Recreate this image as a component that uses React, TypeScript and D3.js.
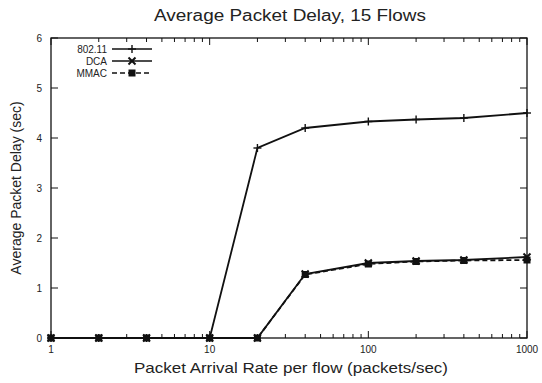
import React from "react";
import * as d3 from "d3";

// Packet arrival rates (packets/sec) and average delays (sec) per MAC protocol
const rates = [1, 2, 4, 10, 20, 40, 100, 200, 400, 1000];
const delay80211 = [0, 0, 0, 0, 3.8, 4.2, 4.33, 4.37, 4.4, 4.5];
const delayDCA = [0, 0, 0, 0, 0, 1.28, 1.5, 1.54, 1.56, 1.62];
const delayMMAC = [0, 0, 0, 0, 0, 1.27, 1.48, 1.53, 1.55, 1.56];

const seriesNames = ["802.11", "DCA", "MMAC"];
const xTickLabels = [1, 10, 100, 1000];
const yTickValues = [0, 1, 2, 3, 4, 5, 6];

const W = 542;
const H = 383;
const M = { left: 51, right: 527, top: 38, bottom: 338 };
const FONT = "'Liberation Sans', Arial, Helvetica, sans-serif";
const INK = "#111";

type Marker = "plus" | "cross" | "square";

function MarkerShape({ type, x, y }: { type: Marker; x: number; y: number }) {
  if (type === "plus") {
    return (
      <g stroke={INK} strokeWidth={1.4}>
        <line x1={x - 4} x2={x + 4} y1={y} y2={y} />
        <line x1={x} x2={x} y1={y - 4} y2={y + 4} />
      </g>
    );
  }
  if (type === "cross") {
    return (
      <g stroke={INK} strokeWidth={2}>
        <line x1={x - 3.5} x2={x + 3.5} y1={y - 3.5} y2={y + 3.5} />
        <line x1={x - 3.5} x2={x + 3.5} y1={y + 3.5} y2={y - 3.5} />
      </g>
    );
  }
  return <rect x={x - 3.5} y={y - 3.5} width={7} height={7} fill={INK} />;
}

export default function App() {
  const x = d3.scaleLog().domain([1, 1000]).range([M.left, M.right]);
  const y = d3.scaleLinear().domain([0, 6]).range([M.bottom, M.top]);

  const series: { name: string; values: number[]; marker: Marker; dash?: string }[] = [
    { name: seriesNames[0], values: delay80211, marker: "plus" },
    { name: seriesNames[1], values: delayDCA, marker: "cross" },
    { name: seriesNames[2], values: delayMMAC, marker: "square", dash: "5,3" },
  ];

  const line = d3
    .line<number>()
    .x((_, i) => x(rates[i]))
    .y((d) => y(d));

  // major decade ticks and minor ticks 2..9 within each decade
  const majorTicks = xTickLabels;
  const minorTicks: number[] = [];
  for (const dec of [1, 10, 100]) {
    for (let k = 2; k <= 9; k++) minorTicks.push(dec * k);
  }

  const legendRows = [49, 61, 73];

  return (
    <div style={{ position: "fixed", left: 0, top: 0 }}>
      <svg width={W} height={H} style={{ display: "block", background: "#fff" }}>
        <text
          x={(M.left + M.right) / 2 + 1}
          y={21}
          textAnchor="middle"
          fontFamily={FONT}
          fontSize={16}
          textLength={272}
          lengthAdjust="spacingAndGlyphs"
          fill="#222"
        >
          Average Packet Delay, 15 Flows
        </text>

        {/* tick marks */}
        <g stroke={INK} strokeWidth={1}>
          {majorTicks.map((t) => (
            <g key={"M" + t}>
              <line x1={x(t)} x2={x(t)} y1={M.bottom} y2={M.bottom - 7} />
              <line x1={x(t)} x2={x(t)} y1={M.top} y2={M.top + 7} />
            </g>
          ))}
          {minorTicks.map((t) => (
            <g key={"m" + t}>
              <line x1={x(t)} x2={x(t)} y1={M.bottom} y2={M.bottom - 4} />
              <line x1={x(t)} x2={x(t)} y1={M.top} y2={M.top + 4} />
            </g>
          ))}
          {yTickValues.map((t) => (
            <g key={"y" + t}>
              <line x1={M.left} x2={M.left + 7} y1={y(t)} y2={y(t)} />
              <line x1={M.right} x2={M.right - 7} y1={y(t)} y2={y(t)} />
            </g>
          ))}
        </g>

        {/* tick labels */}
        <g fontFamily={FONT} fontSize={10} fill="#222">
          {xTickLabels.map((t) => (
            <text key={t} x={x(t)} y={M.bottom + 15} textAnchor="middle">
              {t}
            </text>
          ))}
          {yTickValues.map((t) => (
            <text key={t} x={M.left - 9} y={y(t) + 3.5} textAnchor="end">
              {t}
            </text>
          ))}
        </g>

        {/* data lines */}
        {series.map((s) => (
          <g key={s.name}>
            <path
              d={line(s.values) || ""}
              fill="none"
              stroke={INK}
              strokeWidth={1.8}
              strokeDasharray={s.dash}
            />
            {s.values.map((v, i) => (
              <MarkerShape key={i} type={s.marker} x={x(rates[i])} y={y(v)} />
            ))}
          </g>
        ))}

        {/* frame */}
        <rect
          x={M.left}
          y={M.top}
          width={M.right - M.left}
          height={M.bottom - M.top}
          fill="none"
          stroke={INK}
          strokeWidth={1.3}
        />

        {/* legend */}
        <g fontFamily={FONT} fontSize={10} fill="#222">
          {series.map((s, i) => (
            <g key={s.name}>
              <text x={107} y={legendRows[i] + 3.5} textAnchor="end">
                {s.name}
              </text>
              <line
                x1={112}
                x2={152}
                y1={legendRows[i]}
                y2={legendRows[i]}
                stroke={INK}
                strokeWidth={1.6}
                strokeDasharray={s.dash}
              />
              <MarkerShape type={s.marker} x={132} y={legendRows[i]} />
            </g>
          ))}
        </g>

        {/* axis titles */}
        <text
          x={(M.left + M.right) / 2 + 2}
          y={373}
          textAnchor="middle"
          fontFamily={FONT}
          fontSize={15}
          textLength={314}
          lengthAdjust="spacingAndGlyphs"
          fill="#222"
        >
          Packet Arrival Rate per flow (packets/sec)
        </text>
        <text
          transform={`translate(21, ${(M.top + M.bottom) / 2}) rotate(-90)`}
          textAnchor="middle"
          fontFamily={FONT}
          fontSize={14}
          fill="#222"
        >
          Average Packet Delay (sec)
        </text>
      </svg>
    </div>
  );
}
